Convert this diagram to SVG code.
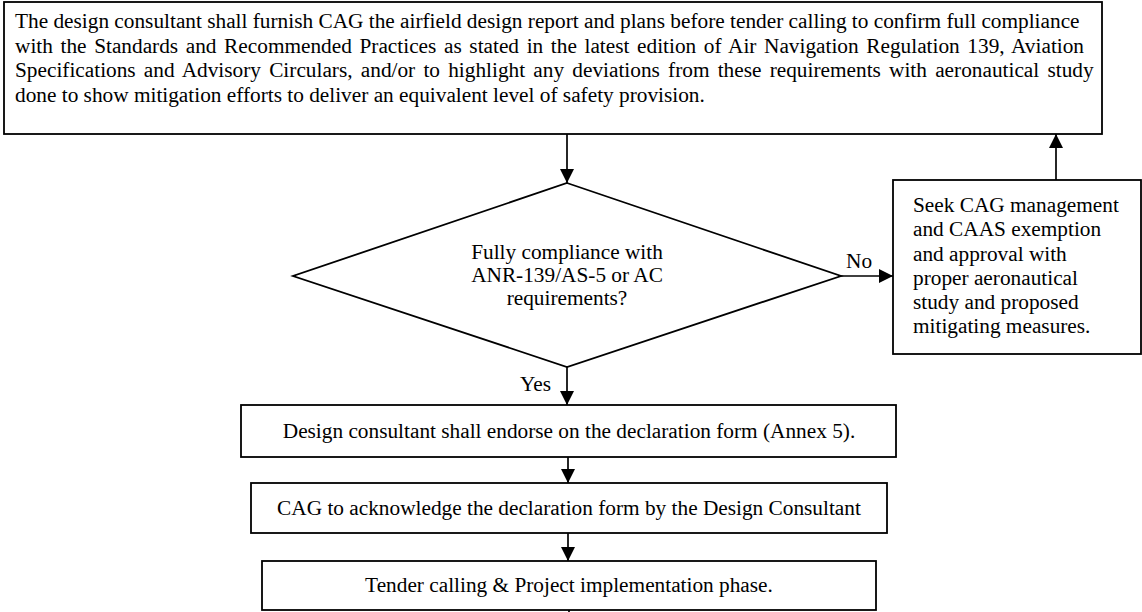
<svg xmlns="http://www.w3.org/2000/svg" width="1142" height="612" viewBox="0 0 1142 612">
<style>
.box{fill:#fff;stroke:#000;stroke-width:1.8}
.t{font-family:"Liberation Serif","Times New Roman",serif;font-size:21.3px;fill:#000}
.c{text-anchor:middle}
.conn{stroke:#000;stroke-width:1.7;fill:none}
</style>
<defs>
<marker id="ah" markerUnits="userSpaceOnUse" markerWidth="14" markerHeight="14" refX="14" refY="7" orient="auto">
<path d="M0,0 L14,7 L0,14 z" fill="#000"/>
</marker>
</defs>
<rect width="1142" height="612" fill="#fff"/>
<g id="connectors">
<line class="conn" x1="567" y1="134" x2="567" y2="183" marker-end="url(#ah)"/>
<line class="conn" x1="841" y1="276" x2="893" y2="276" marker-end="url(#ah)"/>
<line class="conn" x1="1056" y1="180" x2="1056" y2="134" marker-end="url(#ah)"/>
<line class="conn" x1="567" y1="367" x2="567" y2="405" marker-end="url(#ah)"/>
<line class="conn" x1="568" y1="457" x2="568" y2="483" marker-end="url(#ah)"/>
<line class="conn" x1="568" y1="533" x2="568" y2="561" marker-end="url(#ah)"/>
<line class="conn" x1="569" y1="610" x2="569" y2="612"/>
<text class="t" x="846" y="268">No</text>
<text class="t" x="520" y="391">Yes</text>
</g>
<g id="top-box">
<rect class="box" x="4" y="2" width="1098" height="132"/>
<text class="t" x="15" y="28">The design consultant shall furnish CAG the airfield design report and plans before tender calling to confirm full compliance</text>
<text class="t" x="15" y="52.5" word-spacing="2.3">with the Standards and Recommended Practices as stated in the latest edition of Air Navigation Regulation 139, Aviation</text>
<text class="t" x="15" y="77" word-spacing="2.9">Specifications and Advisory Circulars, and/or to highlight any deviations from these requirements with aeronautical study</text>
<text class="t" x="15" y="101.5">done to show mitigation efforts to deliver an equivalent level of safety provision.</text>
</g>
<g id="decision">
<polygon class="box" points="567,183 841,276 567,367 293,276"/>
<text class="t c" x="567" y="259">Fully compliance with</text>
<text class="t c" x="567" y="282">ANR-139/AS-5 or AC</text>
<text class="t c" x="567" y="305">requirements?</text>
</g>
<g id="seek-box">
<rect class="box" x="893" y="180" width="248" height="174"/>
<text class="t" x="913" y="212">Seek CAG management</text>
<text class="t" x="913" y="236">and CAAS exemption</text>
<text class="t" x="913" y="260.5">and approval with</text>
<text class="t" x="913" y="284.5">proper aeronautical</text>
<text class="t" x="913" y="309">study and proposed</text>
<text class="t" x="913" y="333">mitigating measures.</text>
</g>
<g id="endorse-box">
<rect class="box" x="241" y="405" width="655" height="52"/>
<text class="t c" x="569" y="438">Design consultant shall endorse on the declaration form (Annex 5).</text>
</g>
<g id="acknowledge-box">
<rect class="box" x="251" y="483" width="636" height="50"/>
<text class="t c" x="569" y="515">CAG to acknowledge the declaration form by the Design Consultant</text>
</g>
<g id="tender-box">
<rect class="box" x="262" y="561" width="614" height="49"/>
<text class="t c" x="569" y="592">Tender calling &amp; Project implementation phase.</text>
</g>
</svg>
